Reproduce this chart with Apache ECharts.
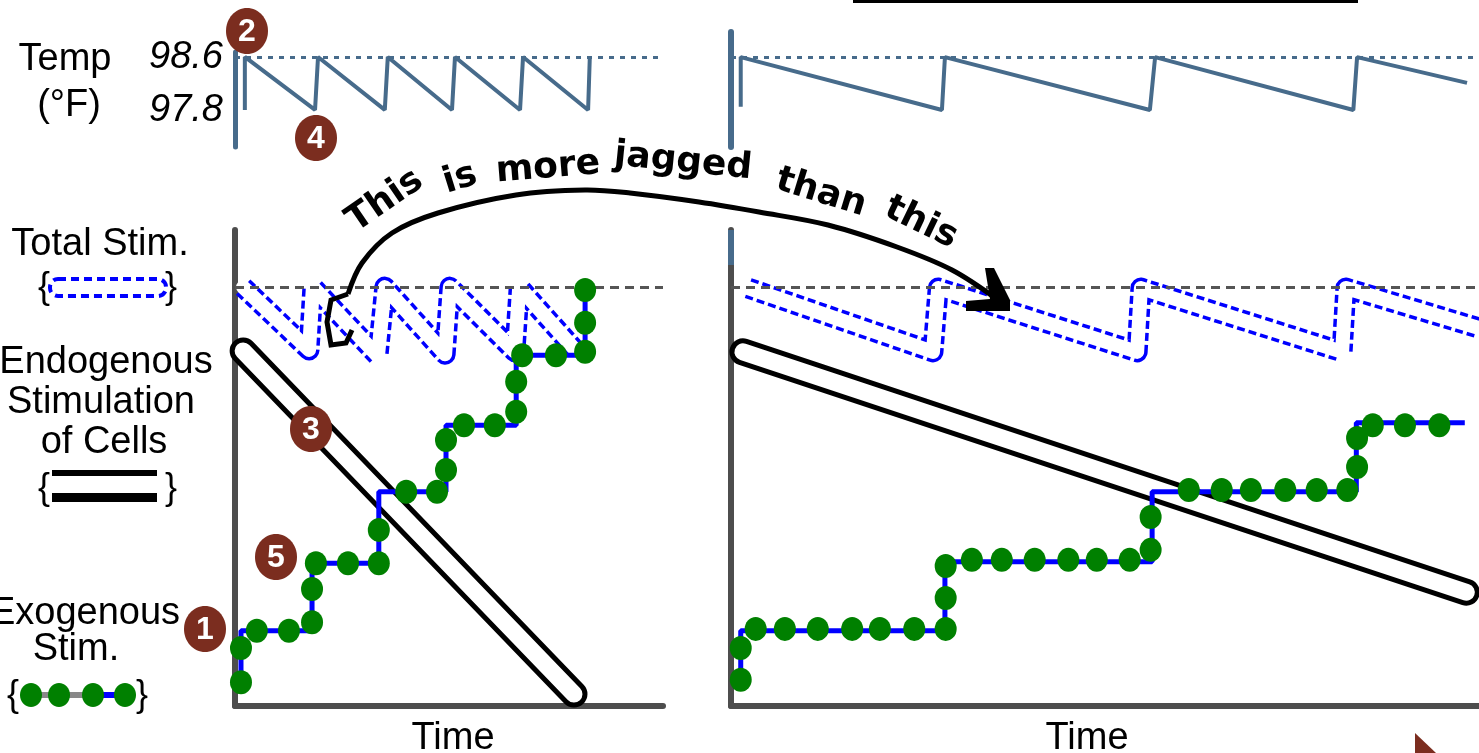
<!DOCTYPE html>
<html>
<head>
<meta charset="utf-8">
<script src="https://cdn.jsdelivr.net/npm/echarts@6.0.0/dist/echarts.min.js"></script>
<style>
  html, body { margin: 0; padding: 0; background: #fff; }
  #chart { width: 1479px; height: 753px; }
</style>
</head>
<body>
<div id="chart"></div>
<script>
// time runs 0..100 across each panel, stimulation 0..100 up the lower panels

// temperature (F)
var tempTicks = [97.8, 98.6];
var setPoint = 98.6;
var tempLeft = [[2.3, 97.8], [2.3, 98.6], [18.7, 97.8], [19.4, 98.6], [35.0, 97.8], [35.7, 98.6],
  [50.7, 97.8], [51.4, 98.6], [66.6, 97.8], [67.3, 98.6], [82.5, 97.8], [82.9, 98.6]];
var tempRight = [[1.3, 97.85], [1.3, 98.6], [28.2, 97.8], [28.6, 98.6], [56.0, 97.8], [56.7, 98.6],
  [83.2, 97.8], [83.7, 98.6], [98.4, 98.21]];

// total stimulation
var totalLine = 88;
var totalLeft = [[1.9, 88], [17.3, 74.8], [18.2, 88], [33.4, 73.5], [35.0, 88], [49.1, 73.9],
  [50.2, 88], [65.4, 74.4], [66.4, 88], [79.9, 74.4]];
var totalRight = [[2.3, 87.8], [27.0, 74.4], [27.7, 87.8], [54.3, 74.4], [54.8, 87.8],
  [81.7, 74.4], [82.2, 87.8], [100, 79.4]];

// endogenous stimulation of cells
var endoLeft = [[1.9, 74.6], [79.2, 2.5]];
var endoRight = [[1.6, 74.4], [98.3, 23.9]];

// exogenous stimulation: step path and the dots on it
var exoStepLeft = [[1.4, 5.0], [1.4, 15.8], [18.0, 15.8], [18.0, 30.0], [33.6, 30.0], [33.6, 45.0],
  [49.3, 45.0], [49.3, 59.0], [65.7, 59.0], [65.7, 73.7], [81.8, 73.7], [81.8, 87.4]];
var exoDotsLeft = [[1.4, 5.0], [1.4, 12.2], [5.1, 15.8], [12.6, 15.8], [18.0, 17.6], [18.0, 24.6],
  [18.9, 30.0], [26.4, 30.0], [33.6, 30.0], [33.6, 37.0], [40.0, 45.0], [47.2, 45.0],
  [49.3, 49.6], [49.3, 55.9], [53.5, 59.0], [60.7, 59.0], [65.7, 61.8], [65.7, 68.1],
  [67.1, 73.7], [75.0, 73.7], [81.8, 74.4], [81.8, 80.5], [81.8, 87.4]];
var exoStepRight = [[1.3, 5.5], [1.3, 15.8], [28.6, 15.8], [28.6, 30.3], [56.3, 30.3], [56.3, 45.0],
  [83.6, 45.0], [83.6, 59.5], [98.1, 59.5]];
var exoDotsRight = [[1.3, 5.5], [1.3, 12.2], [3.3, 16.2], [7.2, 16.2], [11.6, 16.2], [16.2, 16.2],
  [19.9, 16.2], [24.5, 16.2], [28.7, 16.2], [28.7, 22.7], [28.7, 29.4], [32.2, 30.7],
  [36.2, 30.7], [40.6, 30.7], [45.1, 30.7], [48.9, 30.7], [53.3, 30.7], [56.1, 32.8],
  [56.1, 39.7], [61.2, 45.4], [65.6, 45.4], [69.5, 45.4], [74.1, 45.4], [78.3, 45.4],
  [82.4, 45.4], [83.7, 50.2], [83.7, 56.3], [85.8, 59.0], [90.1, 59.0], [94.7, 59.0]];

// numbered markers
var badges = [
  { n: '1', x: 205, y: 629 },
  { n: '2', x: 247, y: 31 },
  { n: '3', x: 311, y: 429 },
  { n: '4', x: 316, y: 138 },
  { n: '5', x: 276, y: 557 }
];

// handwritten note, one word at a time along the arc
var noteWords = [
  { t: 'This', x: 385, y: 201, r: 0.6 },
  { t: 'is', x: 460, y: 179, r: 0.3 },
  { t: 'more', x: 548, y: 168, r: 0.08 },
  { t: 'jagged', x: 683, y: 162, r: -0.1 },
  { t: 'than', x: 821, y: 193, r: -0.3 },
  { t: 'this', x: 921, y: 223, r: -0.45 }
];

var steel = '#476b8b';
var axisGray = '#4d4d4d';
var brown = '#7b2d1f';
var green = '#008000';
var font = '"Liberation Sans", Arial, sans-serif';

function timeAxis(idx, show, shift) {
  return {
    type: 'value', gridIndex: idx, min: 0, max: 100, show: show,
    name: show ? 'Time' : '', nameLocation: 'middle', nameGap: 14,
    nameTextStyle: { fontFamily: font, fontSize: 38, color: '#000',
      padding: shift > 0 ? [0, 0, 0, shift] : [0, -shift, 0, 0] },
    axisLine: { show: true, onZero: false, lineStyle: { color: axisGray, width: 6 } },
    axisTick: { show: false }, axisLabel: { show: false }, splitLine: { show: false }
  };
}

function valAxis(idx, min, max, color, width) {
  return {
    type: 'value', gridIndex: idx, min: min, max: max,
    axisLine: { show: true, onZero: false, lineStyle: { color: color, width: width } },
    axisTick: { show: false }, axisLabel: { show: false }, splitLine: { show: false }
  };
}

var tempY = valAxis(0, 97.24, 98.675, steel, 5);
tempY.axisLabel = {
  show: true, customValues: tempTicks, margin: 12,
  fontFamily: font, fontSize: 38, fontStyle: 'italic', color: '#000',
  formatter: function (v) { return v.toFixed(1); }
};

function dotted(yVal, color, dash) {
  return {
    symbol: 'none', silent: true, label: { show: false },
    lineStyle: { color: color, width: 3, type: dash },
    data: [{ yAxis: yVal }]
  };
}

function panelSeries(i, temp, total, endo, exoStep, exoDots) {
  var t = i, s = i + 2;
  return [
    { type: 'line', xAxisIndex: t, yAxisIndex: t, data: temp, showSymbol: false, clip: false,
      lineStyle: { color: steel, width: 4 }, z: 2,
      markLine: dotted(setPoint, steel, [5, 6]) },
    // hollow dashed band: wide dashed blue with white core
    { type: 'line', xAxisIndex: s, yAxisIndex: s, data: total, showSymbol: false, clip: false,
      lineStyle: { color: '#0000ff', width: 21, type: [8, 4], cap: 'butt', join: 'round' }, z: 1 },
    { type: 'line', xAxisIndex: s, yAxisIndex: s, data: total, showSymbol: false, clip: false,
      lineStyle: { color: '#fff', width: 14, cap: 'round', join: 'round' }, z: 2,
      markLine: dotted(totalLine, '#555', [9, 6]) },
    // pill shaped band
    { type: 'line', xAxisIndex: s, yAxisIndex: s, data: endo, showSymbol: false, clip: false,
      lineStyle: { color: '#000', width: 27, cap: 'round' }, z: 3 },
    { type: 'line', xAxisIndex: s, yAxisIndex: s, data: endo, showSymbol: false, clip: false,
      lineStyle: { color: '#fff', width: 17, cap: 'round' }, z: 4 },
    { type: 'line', xAxisIndex: s, yAxisIndex: s, data: exoStep, showSymbol: false, clip: false,
      lineStyle: { color: '#0000ff', width: 5 }, z: 5 },
    { type: 'scatter', xAxisIndex: s, yAxisIndex: s, data: exoDots, symbol: 'circle',
      symbolSize: [22, 24], itemStyle: { color: green, opacity: 1 }, z: 6 }
  ];
}

function txt(s, x, y, extra) {
  var st = { text: s, x: 0, y: 0, font: '38px ' + font, fill: '#000',
    align: 'center', verticalAlign: 'middle', textAlign: 'center', textVerticalAlign: 'middle' };
  for (var k in extra) st[k] = extra[k];
  return { type: 'text', x: x, y: y, style: st, z: 50 };
}

var gfx = [];
// side labels
gfx.push(txt('Temp', 65, 60));
gfx.push(txt('(\u00b0F)', 69, 106));
gfx.push(txt('Total Stim.', 100, 245));
gfx.push(txt('Endogenous', 106, 363));
gfx.push(txt('Stimulation', 101, 403));
gfx.push(txt('of Cells', 104, 443));
gfx.push(txt('Exogenous', 85, 614));
gfx.push(txt('Stim.', 76, 650));
// legend braces
[[44, 288, '{'], [171, 288, '}'], [44, 489, '{'], [171, 489, '}'], [13, 696, '{'], [142, 696, '}']]
  .forEach(function (b) { gfx.push(txt(b[2], b[0], b[1], { font: '36px ' + font })); });
// legend symbols
gfx.push({ type: 'rect', shape: { x: 50, y: 279, width: 116, height: 17, r: 8 }, z: 50,
  style: { fill: null, stroke: '#0000ff', lineWidth: 4, lineDash: [8, 5] } });
gfx.push({ type: 'rect', shape: { x: 52, y: 470, width: 105, height: 6 }, style: { fill: '#000' }, z: 50 });
gfx.push({ type: 'rect', shape: { x: 52, y: 493, width: 105, height: 9 }, style: { fill: '#000' }, z: 50 });
gfx.push({ type: 'line', shape: { x1: 31, y1: 695, x2: 93, y2: 695 }, style: { stroke: '#888', lineWidth: 6 }, z: 50 });
gfx.push({ type: 'line', shape: { x1: 93, y1: 695, x2: 125, y2: 695 }, style: { stroke: '#0000ff', lineWidth: 6 }, z: 50 });
[31, 59, 93, 125].forEach(function (cx) {
  gfx.push({ type: 'ellipse', shape: { cx: cx, cy: 695, rx: 11, ry: 12 }, style: { fill: green }, z: 51 });
});
// steel tint at top of right stim axis
gfx.push({ type: 'rect', shape: { x: 728, y: 230, width: 6, height: 35 }, style: { fill: steel }, z: 60 });
// rule at the top right and corner mark
gfx.push({ type: 'rect', shape: { x: 853, y: 0, width: 505, height: 3 }, style: { fill: '#000' }, z: 50 });
gfx.push({ type: 'polygon', shape: { points: [[1415, 733], [1415, 753], [1436, 753]] }, style: { fill: brown }, z: 50 });
// arrow from the jagged trace to the smooth one
gfx.push({ type: 'polyline', z: 80,
  shape: { points: [[352, 330], [346, 343], [331, 345], [327, 322], [331, 300], [348, 294]] },
  style: { stroke: '#000', lineWidth: 5, fill: null } });
gfx.push({ type: 'polyline', z: 80,
  shape: { smooth: 0.35, points: [[348, 294], [362, 263], [392, 233], [438, 213], [516, 195], [585, 190],
    [630, 193], [699, 202], [759, 212], [828, 225], [897, 247], [952, 270], [998, 300]] },
  style: { stroke: '#000', lineWidth: 5, fill: null } });
gfx.push({ type: 'polygon', z: 80,
  shape: { points: [[985, 268], [994, 268], [1010, 300], [1010, 311], [966, 311], [966, 301], [990, 299]] },
  style: { fill: '#000' } });
noteWords.forEach(function (w) {
  var el = txt(w.t, w.x, w.y, { font: 'bold 36px "DejaVu Sans", sans-serif' });
  el.rotation = w.r;
  el.z = 90;
  gfx.push(el);
});
// numbered markers
badges.forEach(function (b) {
  gfx.push({ type: 'ellipse', shape: { cx: b.x, cy: b.y, rx: 21, ry: 23 }, style: { fill: brown }, z: 95 });
  gfx.push(txt(b.n, b.x, b.y + 1, { font: 'bold 32px ' + font, fill: '#fff' }));
  gfx[gfx.length - 1].z = 96;
});

var option = {
  backgroundColor: '#fff',
  animation: false,
  grid: [
    { left: 235, top: 52, width: 428, height: 95, outerBoundsMode: 'none', containLabel: false },
    { left: 731, top: 32, width: 748, height: 115, outerBoundsMode: 'none', containLabel: false },
    { left: 235, top: 230, width: 428, height: 476, outerBoundsMode: 'none', containLabel: false },
    { left: 731, top: 230, width: 748, height: 476, outerBoundsMode: 'none', containLabel: false }
  ],
  xAxis: [timeAxis(0, false, 0), timeAxis(1, false, 0), timeAxis(2, true, 8), timeAxis(3, true, -36)],
  yAxis: [
    tempY,
    valAxis(1, 97.24, 98.98, steel, 6),
    valAxis(2, 0, 100, axisGray, 6),
    valAxis(3, 0, 100, axisGray, 6)
  ],
  series: [].concat(
    panelSeries(0, tempLeft, totalLeft, endoLeft, exoStepLeft, exoDotsLeft),
    panelSeries(1, tempRight, totalRight, endoRight, exoStepRight, exoDotsRight)
  ),
  graphic: { elements: gfx }
};

var myChart = echarts.init(document.getElementById('chart'));
myChart.setOption(option);
</script>
</body>
</html>
